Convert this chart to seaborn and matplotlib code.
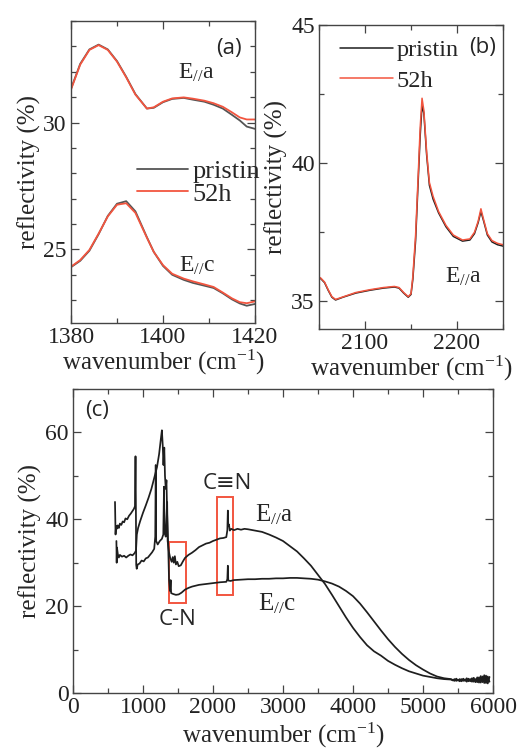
import numpy as np
import pandas as pd
import matplotlib
matplotlib.use("Agg")
import matplotlib.pyplot as plt
import seaborn as sns
from matplotlib.patches import Rectangle
from matplotlib.ticker import MultipleLocator

# ---------------- data ----------------
# panel (a)
a_wn = [1380, 1382, 1384, 1386, 1388, 1390, 1392, 1394, 1396.5, 1398, 1400, 1402,
        1404.5, 1406.5, 1409, 1411, 1413, 1415, 1416.7, 1418.2, 1420]
a_pristin_Ea = [31.33, 32.31, 32.88, 33.07, 32.88, 32.42, 31.80, 31.12, 30.55, 30.58, 30.80, 30.93,
                30.97, 30.90, 30.82, 30.70, 30.55, 30.30, 30.08, 29.84, 29.75]
a_52h_Ea = [31.30, 32.28, 32.86, 33.05, 32.86, 32.40, 31.78, 31.10, 30.55, 30.60, 30.82, 30.95,
            30.99, 30.94, 30.86, 30.76, 30.62, 30.40, 30.20, 30.12, 30.12]
a_pristin_Ec = [24.30, 24.55, 24.95, 25.60, 26.32, 26.80, 26.90, 26.50, 25.48, 24.90, 24.35, 24.00,
                23.80, 23.68, 23.57, 23.48, 23.27, 23.03, 22.87, 22.78, 22.85]
a_52h_Ec = [24.32, 24.58, 24.98, 25.62, 26.30, 26.76, 26.82, 26.44, 25.46, 24.90, 24.38, 24.04,
            23.85, 23.74, 23.62, 23.52, 23.30, 23.07, 22.92, 22.88, 22.95]

# panel (b)
b_wn = [2050, 2052, 2056, 2060, 2064, 2068, 2076, 2090, 2105, 2120, 2132, 2137, 2142, 2147,
        2150, 2152, 2155, 2158, 2160, 2162, 2164, 2167, 2170, 2174, 2180, 2188, 2196, 2206,
        2214, 2219, 2223, 2226, 2229, 2233, 2238, 2244, 2250]
b_pristin = [35.85, 35.82, 35.68, 35.40, 35.15, 35.05, 35.15, 35.30, 35.40, 35.48, 35.52, 35.48,
             35.30, 35.15, 35.25, 35.80, 37.20, 39.50, 41.00, 42.10, 41.80, 40.30, 39.20, 38.70,
             38.20, 37.70, 37.35, 37.18, 37.22, 37.45, 37.85, 38.25, 37.90, 37.40, 37.15, 37.05, 37.00]
b_52h = [35.88, 35.84, 35.70, 35.42, 35.17, 35.07, 35.16, 35.32, 35.42, 35.50, 35.54, 35.50,
         35.32, 35.17, 35.28, 35.90, 37.40, 39.70, 41.30, 42.35, 41.90, 40.40, 39.30, 38.80,
         38.25, 37.75, 37.40, 37.22, 37.26, 37.50, 37.90, 38.35, 37.95, 37.45, 37.20, 37.10, 37.05]

# panel (c)
c_wn_a = [600, 604, 608, 615, 625, 640, 655, 670, 690, 710, 730, 750, 775, 800, 825, 850, 870, 885,
          893, 898, 903, 910, 925, 950, 980, 1010, 1040, 1070, 1100, 1130, 1160, 1175, 1182, 1188,
          1210, 1240, 1270, 1290, 1300, 1308, 1325, 1345, 1352, 1370, 1390, 1410, 1425, 1440, 1455,
          1470, 1490, 1510, 1540, 1570, 1600, 1650, 1700, 1750, 1800, 1850, 1900, 1950, 2000, 2050,
          2100, 2150, 2190, 2205, 2212, 2218, 2228, 2240, 2260, 2300, 2350, 2400, 2450, 2500, 2600,
          2700, 2800, 2900, 3000, 3100, 3200, 3300, 3400, 3500, 3600, 3700, 3800, 3900, 4000, 4100,
          4200, 4300, 4400, 4500, 4600, 4700, 4800, 4900, 5000, 5100, 5200, 5300,
          5400, 5425, 5450, 5475, 5500, 5525, 5550, 5575, 5600, 5625, 5650, 5675, 5700, 5725,
          5750, 5775, 5800, 5825, 5850, 5875, 5900, 5925, 5950]
c_Ea = [44.0, 39.5, 36.5, 38.5, 37.8, 38.6, 38.0, 39.0, 38.7, 39.5, 39.3, 40.2, 40.0, 40.8, 41.3,
        41.9, 42.4, 43.0, 54.5, 44.0, 29.5, 28.6, 29.6, 29.8, 30.5, 30.3, 31.0, 31.2, 31.8, 32.4,
        33.2, 36.0, 52.5, 35.0, 34.2, 35.0, 35.5, 36.5, 47.5, 37.0, 36.0, 44.0, 35.0, 32.5, 31.0,
        30.2, 31.3, 30.0, 31.5, 29.6, 30.2, 29.2, 29.4, 30.3, 31.1, 31.8, 32.3, 32.9, 33.6, 34.0,
        34.4, 34.6, 35.0, 35.3, 35.6, 35.7, 35.9, 37.5, 42.0, 38.5, 38.8, 37.4, 37.8, 37.5, 37.8,
        37.6, 37.8, 37.7, 37.4, 37.1, 36.5, 35.8, 35.0, 33.8, 32.6, 31.0, 29.3, 27.2, 25.1, 22.6,
        20.0, 17.4, 15.0, 12.9, 11.0, 9.6, 8.6, 7.4, 6.5, 5.7, 5.0, 4.5, 4.0, 3.7, 3.4, 3.2,
        3.1, 2.9, 3.2, 2.8, 3.0, 2.7, 3.2, 2.8, 3.1, 2.6, 3.3, 2.7, 3.4, 2.6, 3.2, 2.5, 3.6, 2.4,
        3.8, 2.3, 4.0, 2.2, 3.7]
c_wn_c = [620, 624, 628, 640, 655, 670, 700, 730, 760, 790, 820, 850, 880, 900, 912, 930, 960,
          1000, 1040, 1080, 1120, 1160, 1200, 1230, 1255, 1270, 1282, 1292, 1304, 1314, 1325, 1335,
          1345, 1360, 1372, 1385, 1395, 1402, 1430, 1470, 1510, 1550, 1600, 1650, 1700, 1800, 1900,
          2000, 2100, 2190, 2205, 2212, 2218, 2250, 2300, 2400, 2500, 2600, 2700, 2800, 2900, 3000,
          3100, 3200, 3300, 3400, 3500, 3600, 3700, 3800, 3900, 4000, 4100, 4200, 4300, 4400, 4500,
          4600, 4700, 4800, 4900, 5000, 5100, 5200, 5300, 5400,
          5425, 5450, 5475, 5500, 5525, 5550, 5575, 5600, 5625, 5650, 5675, 5700, 5725, 5750,
          5775, 5800, 5825, 5850, 5875, 5900, 5925, 5950]
c_Ec = [35.0, 30.0, 33.5, 32.0, 31.2, 31.8, 31.4, 31.6, 31.2, 31.6, 31.9, 31.7, 32.2, 32.8, 36.5,
        38.0, 39.6, 41.5, 43.2, 45.0, 47.0, 49.5, 52.0, 55.0, 58.5, 60.5, 57.0, 52.5, 56.5, 50.0,
        47.0, 49.0, 41.0, 34.0, 26.0, 23.5, 26.0, 23.0, 22.8, 22.6, 22.7, 23.1, 23.8, 24.2, 24.5,
        24.9, 25.1, 25.3, 25.5, 25.6, 26.2, 29.3, 25.9, 25.8, 26.0, 26.1, 26.2, 26.2, 26.3, 26.3,
        26.4, 26.4, 26.5, 26.5, 26.4, 26.3, 26.1, 25.7, 25.2, 24.5, 23.5, 22.3, 20.6, 18.6, 16.5,
        14.4, 12.4, 10.6, 9.0, 7.6, 6.4, 5.4, 4.5, 3.8, 3.4, 3.2,
        3.0, 2.8, 3.3, 2.9, 3.2, 2.7, 3.3, 2.8, 3.4, 2.7, 3.2, 2.6, 3.5, 2.5, 3.6, 2.4, 3.9, 2.5,
        4.1, 2.3, 3.8, 2.6]

legend_labels = ["pristin", "52h"]

# ---------------- style ----------------
sns.set_theme(style="ticks")
plt.rcParams.update({
    "font.family": ["Liberation Serif", "DejaVu Serif"],
    "mathtext.fontset": "custom",
    "mathtext.rm": "Liberation Serif",
    "mathtext.it": "Liberation Serif:italic",
    "xtick.direction": "in", "ytick.direction": "in",
    "xtick.top": True, "ytick.right": True,
    "xtick.major.size": 5.5, "ytick.major.size": 5.5,
    "xtick.minor.size": 3.5, "ytick.minor.size": 3.5,
    "xtick.major.width": 0.9, "ytick.major.width": 0.9,
    "xtick.minor.width": 0.9, "ytick.minor.width": 0.9,
    "xtick.color": "#444444", "ytick.color": "#444444",
    "xtick.labelcolor": "#222222", "ytick.labelcolor": "#222222",
    "axes.edgecolor": "#444444", "axes.linewidth": 1.0,
    "xtick.labelsize": 17, "ytick.labelsize": 17,
    "axes.labelsize": 18,
})

RED = "#f2553f"
GRAY = "#555555"
BLACK = "#1e1e1e"
sans = ["Open Sans", "DejaVu Sans"]

fig = plt.figure(figsize=(5.32, 7.51), dpi=100)
W, H = 532.0, 751.0


def box(l, t, r, b):
    return [l / W, 1 - b / H, (r - l) / W, (b - t) / H]


axa = fig.add_axes(box(71, 21, 255, 323))
axb = fig.add_axes(box(319, 25, 503, 329))
axc = fig.add_axes(box(73, 389, 493, 693))

xlab = r"wavenumber (cm$^{\mathregular{-1}}$)"
ylab = "reflectivity (%)"

# ---------------- panel (a) ----------------
dfa = pd.DataFrame({"wn": a_wn, "pa": a_pristin_Ea, "ra": a_52h_Ea,
                    "pc": a_pristin_Ec, "rc": a_52h_Ec})
sns.lineplot(data=dfa, x="wn", y="pa", ax=axa, color=GRAY, lw=1.3, estimator=None, sort=False,
             label=legend_labels[0])
sns.lineplot(data=dfa, x="wn", y="ra", ax=axa, color=RED, lw=1.3, estimator=None, sort=False,
             label=legend_labels[1])
sns.lineplot(data=dfa, x="wn", y="pc", ax=axa, color=GRAY, lw=1.3, estimator=None, sort=False)
sns.lineplot(data=dfa, x="wn", y="rc", ax=axa, color=RED, lw=1.3, estimator=None, sort=False)
axa.set_xlim(1380, 1420)
axa.set_ylim(22.1, 34.0)
axa.xaxis.set_major_locator(MultipleLocator(20))
axa.xaxis.set_minor_locator(MultipleLocator(10))
axa.yaxis.set_major_locator(MultipleLocator(5))
axa.yaxis.set_minor_locator(MultipleLocator(1))
axa.set_xlabel(xlab, labelpad=0)
axa.set_ylabel(ylab, labelpad=2)
axa.legend(loc="upper left", bbox_to_anchor=(0.30, 0.575), frameon=False, fontsize=19,
           handlelength=1.95, handletextpad=0.15, labelspacing=-0.05, borderaxespad=0)
axa.text(0.86, 0.91, "(a)", transform=axa.transAxes, ha="center", va="center",
         fontsize=16, family=sans)
axa.text(1407.2, 31.95, r"E$_{//}$a", ha="center", va="center", fontsize=17)
axa.text(1407.4, 24.35, r"E$_{//}$c", ha="center", va="center", fontsize=17)

# ---------------- panel (b) ----------------
dfb = pd.DataFrame({"wn": b_wn, "p": b_pristin, "r": b_52h})
sns.lineplot(data=dfb, x="wn", y="p", ax=axb, color=BLACK, lw=1.1, estimator=None, sort=False,
             label=legend_labels[0])
sns.lineplot(data=dfb, x="wn", y="r", ax=axb, color=RED, lw=1.1, estimator=None, sort=False,
             label=legend_labels[1])
axb.set_xlim(2050, 2250)
axb.set_ylim(34.0, 45.0)
axb.xaxis.set_major_locator(MultipleLocator(100))
axb.xaxis.set_minor_locator(MultipleLocator(50))
axb.yaxis.set_major_locator(MultipleLocator(5))
axb.yaxis.set_minor_locator(MultipleLocator(2.5))
axb.set_xlabel(xlab, labelpad=0)
axb.set_ylabel(ylab, labelpad=2)
axb.legend(loc="upper left", bbox_to_anchor=(0.06, 0.985), frameon=False, fontsize=17.5,
           handlelength=2.2, handletextpad=0.15, labelspacing=0.35, borderaxespad=0)
axb.text(0.89, 0.925, "(b)", transform=axb.transAxes, ha="center", va="center",
         fontsize=16, family=sans)
axb.text(2206.5, 35.9, r"E$_{//}$a", ha="center", va="center", fontsize=17)

# ---------------- panel (c) ----------------
dfca = pd.DataFrame({"wn": c_wn_a, "R": c_Ea})
dfcc = pd.DataFrame({"wn": c_wn_c, "R": c_Ec})
sns.lineplot(data=dfca, x="wn", y="R", ax=axc, color=BLACK, lw=1.25, estimator=None, sort=False)
sns.lineplot(data=dfcc, x="wn", y="R", ax=axc, color=BLACK, lw=1.25, estimator=None, sort=False)
axc.set_xlim(0, 6000)
axc.set_ylim(0, 70)
axc.xaxis.set_major_locator(MultipleLocator(1000))
axc.xaxis.set_minor_locator(MultipleLocator(500))
axc.yaxis.set_major_locator(MultipleLocator(20))
axc.yaxis.set_minor_locator(MultipleLocator(10))
axc.set_xlabel(xlab, labelpad=2)
axc.set_ylabel(ylab, labelpad=2)
axc.add_patch(Rectangle((1371, 20.7), 239, 14.1, fill=False, edgecolor=RED, lw=1.4))
axc.add_patch(Rectangle((2061, 22.6), 229, 22.6, fill=False, edgecolor=RED, lw=1.4))
axc.text(0.03, 0.93, "(c)", transform=axc.transAxes, ha="left", va="center",
         fontsize=16, family=sans)
axc.text(2200, 48.2, "C≡N", ha="center", va="center", fontsize=16, family=sans)
axc.text(1490, 17.0, "C-N", ha="center", va="center", fontsize=16, family=sans)
axc.text(2880, 41.0, r"E$_{//}$a", ha="center", va="center", fontsize=18)
axc.text(2910, 20.5, r"E$_{//}$c", ha="center", va="center", fontsize=18)

for ax in (axa, axb, axc):
    ax.tick_params(which="both", pad=3)

fig.savefig("out.png", dpi=100, facecolor="white")
